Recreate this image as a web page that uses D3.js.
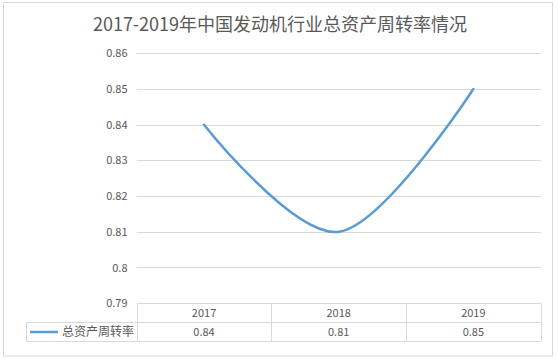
<!DOCTYPE html>
<html>
<head>
<meta charset="utf-8">
<script src="https://cdn.jsdelivr.net/npm/d3@7"></script>
<style>
  html, body { margin: 0; padding: 0; background: #fff; }
  svg { display: block; }
  text { font-family: "Noto Sans CJK SC", "Microsoft YaHei", sans-serif; fill: #595959; }
</style>
</head>
<body>
<script>
const title = "2017-2019年中国发动机行业总资产周转率情况";
const categories = ["2017", "2018", "2019"];
const seriesName = "总资产周转率";
const values = [0.84, 0.81, 0.85];
const valueLabels = ["0.84", "0.81", "0.85"];
const yTicks = [0.79, 0.80, 0.81, 0.82, 0.83, 0.84, 0.85, 0.86];
const yTickLabels = ["0.79", "0.8", "0.81", "0.82", "0.83", "0.84", "0.85", "0.86"];

const W = 558, H = 359;
const svg = d3.select("body").append("svg").attr("width", W).attr("height", H);

// outer border
svg.append("rect").attr("x", 3.5).attr("y", 2.5).attr("width", 549).attr("height", 353.5)
  .attr("fill", "#fff").attr("stroke", "#D9D9D9").attr("stroke-width", 1);

// title
svg.append("text").attr("x", 280).attr("y", 31).attr("text-anchor", "middle")
  .style("font-size", "18px").text(title);

const plotLeft = 136.7, plotRight = 540.7;
const x = d3.scaleBand().domain(categories).range([plotLeft, plotRight]).padding(0);
const y = d3.scaleLinear().domain([0.79, 0.86]).range([303.2, 53.3]);

// gridlines
svg.append("g").selectAll("line").data(yTicks.slice(1)).join("line")
  .attr("x1", plotLeft).attr("x2", plotRight)
  .attr("y1", d => Math.round(y(d)) + 0.5).attr("y2", d => Math.round(y(d)) + 0.5)
  .attr("stroke", "#D9D9D9").attr("stroke-width", 1);

// y tick labels
svg.append("g").selectAll("text").data(yTicks).join("text")
  .attr("x", 127.5).attr("y", d => y(d) + 4)
  .attr("text-anchor", "end").style("font-size", "11px")
  .text((d, i) => yTickLabels[i]);

// line
const line = d3.line()
  .x((d, i) => x(categories[i]) + x.bandwidth() / 2)
  .y(d => y(d))
  .curve(d3.curveCardinal.tension(0));
svg.append("path").datum(values).attr("d", line)
  .attr("fill", "none").attr("stroke", "#5B9BD5").attr("stroke-width", 2.5)
  .attr("stroke-linecap", "round");

// data table
const tTop = 303.5, tMid = 322.5, tBot = 341.5, tLeft = 26.5;
const tg = svg.append("g").attr("stroke", "#D9D9D9").attr("stroke-width", 1);
tg.append("line").attr("x1", plotLeft).attr("x2", plotRight).attr("y1", tTop).attr("y2", tTop);
tg.append("line").attr("x1", tLeft).attr("x2", plotRight).attr("y1", tMid).attr("y2", tMid);
tg.append("line").attr("x1", tLeft).attr("x2", plotRight).attr("y1", tBot).attr("y2", tBot);
tg.append("line").attr("x1", tLeft).attr("x2", tLeft).attr("y1", tMid).attr("y2", tBot);
const dividers = categories.map(c => x(c)).concat([plotRight]);
tg.selectAll("line.v").data(dividers).join("line").attr("class", "v")
  .attr("x1", d => Math.round(d) + 0.5).attr("x2", d => Math.round(d) + 0.5)
  .attr("y1", tTop).attr("y2", tBot);

svg.append("g").selectAll("text").data(categories).join("text")
  .attr("x", d => x(d) + x.bandwidth() / 2).attr("y", 317)
  .attr("text-anchor", "middle").style("font-size", "11px").text(d => d);
svg.append("g").selectAll("text").data(valueLabels).join("text")
  .attr("x", (d, i) => x(categories[i]) + x.bandwidth() / 2).attr("y", 336)
  .attr("text-anchor", "middle").style("font-size", "11px").text(d => d);

// legend key
svg.append("line").attr("x1", 30).attr("x2", 58).attr("y1", 332).attr("y2", 332)
  .attr("stroke", "#5B9BD5").attr("stroke-width", 2.5);
svg.append("text").attr("x", 62).attr("y", 336).style("font-size", "12px").text(seriesName);
</script>
</body>
</html>
